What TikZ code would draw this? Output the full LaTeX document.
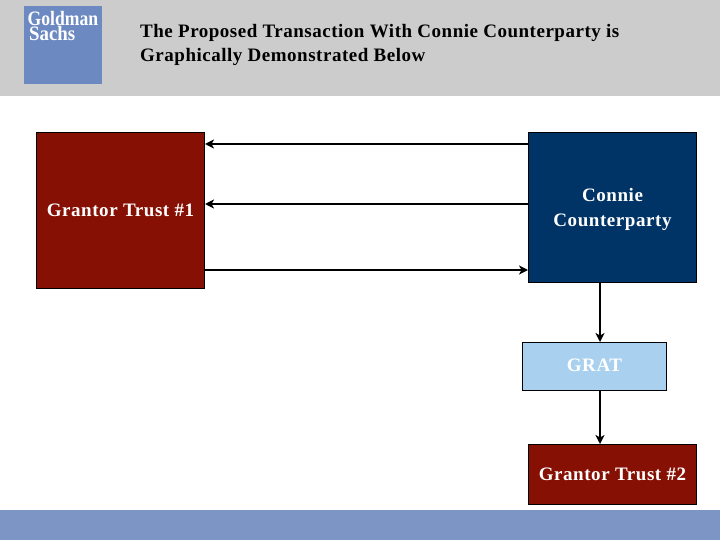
\documentclass[tikz,border=0pt]{standalone}
\usepackage{fontspec}
\setmainfont{Liberation Serif}
\usetikzlibrary{arrows.meta,calc}
\definecolor{hdr}{HTML}{CCCCCC}
\definecolor{foot}{HTML}{7C95C5}
\definecolor{logoblue}{HTML}{6C89C1}
\definecolor{darkred}{HTML}{861003}
\definecolor{navy}{HTML}{003366}
\definecolor{lightb}{HTML}{A9D1EF}
\newcommand{\lowerby}[2]{\raisebox{-#1}[13pt][4pt]{#2}}
\tikzset{
  box/.style={draw=black,line width=1pt,anchor=north west,inner sep=0pt,align=center,text=white,
     font=\bfseries\fontsize{19}{24.5}\selectfont\addfontfeature{LetterSpace=3}},
  link/.style={draw=black,line width=1.9pt,-{Stealth[length=9pt,width=9pt,inset=2.5pt]}},
  title/.style={anchor=north west,inner sep=0pt,align=left,text=black,font=\bfseries\fontsize{19}{24}\selectfont\addfontfeature{LetterSpace=2.7}},
  logotext/.style={anchor=north west,inner sep=0pt,align=left,text=white,font=\bfseries\fontsize{20.5}{15}\selectfont}
}
\begin{document}
\begin{tikzpicture}[x=1pt,y=-1pt]
\useasboundingbox (0,0) rectangle (720,540);
\fill[white] (0,0) rectangle (720,540);
\fill[hdr] (0,0) rectangle (720,96);
\fill[foot] (0,510) rectangle (720,540);
\fill[logoblue] (24,6) rectangle (102,84);
\node[logotext] (logo) at (27.5,11) {\scalebox{.86}[1]{Goldman}\\[0pt]\hspace*{1.5pt}\scalebox{.92}[1]{Sachs}};
\node[title] (ttl) at (140,24) {The Proposed Transaction With Connie Counterparty is\\Graphically Demonstrated Below};
\node[box,fill=darkred,minimum width=168pt,minimum height=156pt] (gtone) at (36,132) {\lowerby{1pt}{Grantor Trust \#1}};
\node[box,fill=navy,minimum width=168pt,minimum height=150pt] (cc) at (528,132) {\lowerby{2pt}{Connie}\\\lowerby{2pt}{Counterparty}};
\node[box,fill=lightb,minimum width=144pt,minimum height=48pt] (grat) at (522,342) {\lowerby{.5pt}{GRAT}};
\node[box,fill=darkred,minimum width=168pt,minimum height=60pt] (gttwo) at (528,444) {\lowerby{1pt}{Grantor Trust \#2}};
\coordinate (ay) at (0,144);
\coordinate (by) at (0,204);
\coordinate (cy) at (0,270);
\coordinate (vx) at (600,0);
\draw[link] (cc.west |- ay) -- (gtone.east |- ay);
\draw[link] (cc.west |- by) -- (gtone.east |- by);
\draw[link] (gtone.east |- cy) -- (cc.west |- cy);
\draw[link] (vx |- cc.south) -- (vx |- grat.north);
\draw[link] (vx |- grat.south) -- (vx |- gttwo.north);
\end{tikzpicture}
\end{document}
